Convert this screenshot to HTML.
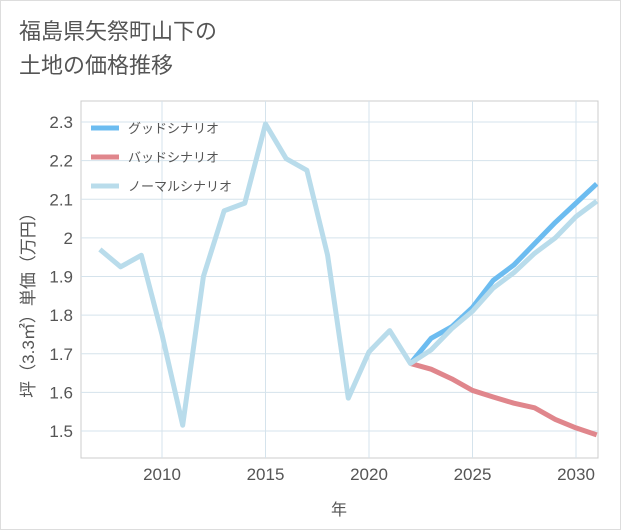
<!DOCTYPE html>
<html><head><meta charset="utf-8"><style>
body{margin:0;background:#fff;}
#wrap{position:relative;width:619px;height:528px;border:1px solid #ddd;background:#fff;font-family:"Liberation Sans","Noto Sans CJK JP",sans-serif;}
.title{position:absolute;left:18px;top:14px;font-size:22px;line-height:34px;color:#555;}
</style></head><body>
<div id="wrap">
<div class="title">福島県矢祭町山下の<br>土地の価格推移</div>
<svg id="chart" width="619" height="528" style="position:absolute;left:0;top:0"></svg>
</div>
<script>
const years=[2007,2008,2009,2010,2011,2012,2013,2014,2015,2016,2017,2018,2019,2020,2021,2022,2023,2024,2025,2026,2027,2028,2029,2030,2031];
const normal=[1.97,1.925,1.955,1.75,1.515,1.9,2.07,2.09,2.295,2.205,2.175,1.955,1.585,1.705,1.76,1.675,1.71,1.765,1.81,1.87,1.91,1.96,2.0,2.055,2.095];
const goodYears=[2022,2023,2024,2025,2026,2027,2028,2029,2030,2031];
const good=[1.675,1.74,1.77,1.82,1.89,1.93,1.985,2.04,2.09,2.14];
const bad=[1.675,1.66,1.635,1.605,1.588,1.572,1.56,1.53,1.508,1.49];
const xTicks=[2010,2015,2020,2025,2030];
const yTicks=[1.5,1.6,1.7,1.8,1.9,2.0,2.1,2.2,2.3];
const yLabels=["1.5","1.6","1.7","1.8","1.9","2","2.1","2.2","2.3"];
const NS="http://www.w3.org/2000/svg";
const svg=document.getElementById('chart');
const L=80,R=597,T=100,B=457;
const x=v=>161+(v-2010)*20.7;
const y=v=>430-(v-1.5)*386.25;
function mk(tag,attrs,parent){const e=document.createElementNS(NS,tag);for(const k in attrs)e.setAttribute(k,attrs[k]);(parent||svg).appendChild(e);return e;}
const bg=mk('rect',{x:L,y:T,width:R-L,height:B-T,fill:'#fff',stroke:'#ccc'});


yTicks.forEach((t,i)=>{
 const g=mk('line',{x1:L,x2:R,y1:y(t),y2:y(t),stroke:'#d5e3ec'});
 
 
 const tx=mk('text',{x:L-8,y:y(t)+6,'text-anchor':'end','font-size':17,fill:'#555'});
 tx.textContent=yLabels[i];
 
 
});
xTicks.forEach(t=>{
 const g=mk('line',{x1:x(t),x2:x(t),y1:T,y2:B,stroke:'#d5e3ec'});
 
 
 const tx=mk('text',{x:x(t),y:B+22,'text-anchor':'middle','font-size':17,fill:'#555'});
 tx.textContent=t;
 
 
});
const xt=mk('text',{x:338,y:514,'text-anchor':'middle','font-size':16,fill:'#555'});
xt.textContent='年';


const yt=mk('text',{x:0,y:0,'text-anchor':'middle','font-size':17,fill:'#555',transform:'translate(33,300) rotate(-90)'});
yt.textContent='坪（3.3㎡）単価（万円）';


const clip=mk('clipPath',{id:'c'});mk('rect',{x:L,y:T,width:R-L,height:B-T},clip);
function line(xs,vs,color,name){
 const p=mk('polyline',{points:xs.map((v,i)=>x(v)+','+y(vs[i])).join(' '),fill:'none',stroke:color,'stroke-width':5,'stroke-linejoin':'round','clip-path':'url(#c)'});
 
 
}
line(goodYears,bad,'#e0868c','bad-scenario-line');
line(goodYears,good,'#6cbcf0','good-scenario-line');
line(years,normal,'#b9dceb','normal-scenario-line');
const leg=[['グッドシナリオ','#6cbcf0'],['バッドシナリオ','#e0868c'],['ノーマルシナリオ','#b9dceb']];
leg.forEach((l,i)=>{
 const g=mk('g',{});
 
 
 mk('line',{x1:90,x2:118,y1:127+i*29,y2:127+i*29,stroke:l[1],'stroke-width':5},g);
 const t=mk('text',{x:127,y:132+i*29,'font-size':13,fill:'#555'},g);t.textContent=l[0];
});
</script>
</body></html>
